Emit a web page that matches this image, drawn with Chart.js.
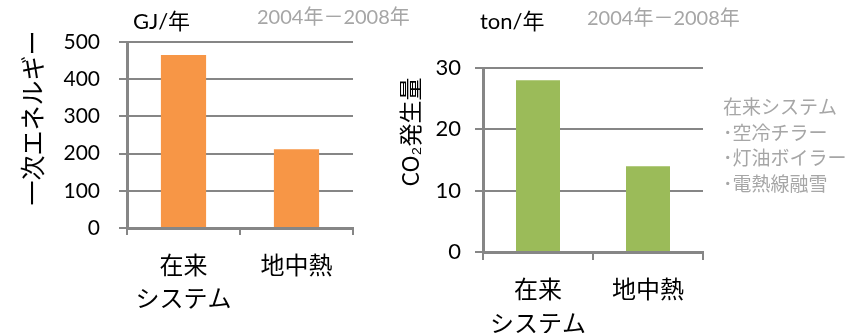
<!DOCTYPE html>
<html lang="ja">
<head>
<meta charset="utf-8">
<title>一次エネルギーとCO2発生量</title>
<script src="https://cdn.jsdelivr.net/npm/chart.js@4.4.0/dist/chart.umd.min.js"></script>
<style>
  html, body { margin: 0; padding: 0; background: #fff; }
  #wrap { position: relative; width: 861px; height: 333px; }
  #wrap canvas { position: absolute; left: 0; top: 0; }
</style>
</head>
<body>
<div id="wrap">
  <canvas id="energyChart" width="861" height="333"></canvas>
  <canvas id="co2Chart" width="861" height="333"></canvas>
</div>
<script>
// Data
const categories = [['在来', 'システム'], '地中熱'];
const energyValues = [465, 212];          // GJ/年
const co2Values = [28, 14];               // ton/年
const energyTicks = [0, 100, 200, 300, 400, 500];
const co2Ticks = [0, 10, 20, 30];
const period = '2004年－2008年';
const conventionalNotes = ['在来システム', '･空冷チラー', '･灯油ボイラー', '･電熱線融雪'];

const FAMILY = "Lato, 'Noto Sans CJK JP', sans-serif";
const JP = "'Noto Sans CJK JP', sans-serif";
const AXIS = '#868686';
const GREY_TEXT = '#a6a6a6';

// draws units, period and axis titles at fixed spots
const freeText = {
    id: 'freeText',
    afterDraw(chart, args, opts) {
        const ctx = chart.ctx;
        (opts.items || []).forEach(function(t) {
            ctx.save();
            ctx.font = t.font;
            ctx.fillStyle = t.color || '#000';
            ctx.textAlign = t.align || 'left';
            ctx.textBaseline = 'middle';
            ctx.translate(t.x, t.y);
            if (t.rotate) ctx.rotate(t.rotate);
            ctx.fillText(t.text, 0, 0);
            ctx.restore();
        });
    }
};

function makeChart(id, values, ticks, color, box, fonts, items) {
    const ctx = document.getElementById(id).getContext('2d');
    return new Chart(ctx, {
        type: 'bar',
        data: {
            labels: categories,
            datasets: [{
                data: values,
                backgroundColor: color,
                borderWidth: 0,
                categoryPercentage: 1,
                barPercentage: 0.4
            }]
        },
        options: {
            responsive: false,
            animation: false,
            events: [],
            layout: {
                padding: { left: 0, top: box.top, right: 861 - box.right, bottom: 0 }
            },
            plugins: {
                legend: { display: false },
                tooltip: { enabled: false },
                freeText: { items: items }
            },
            scales: {
                x: {
                    offset: true,
                    grid: {
                        offset: true,
                        drawOnChartArea: false,
                        drawTicks: true,
                        tickLength: fonts.xTickLength,
                        color: AXIS,
                        lineWidth: 2
                    },
                    border: { display: true, color: AXIS, width: 3 },
                    ticks: {
                        color: '#000',
                        padding: fonts.xPadding,
                        maxRotation: 0,
                        font: { family: JP, size: 24, lineHeight: fonts.xLineHeight }
                    },
                    afterFit: function(scale) { scale.height = 333 - box.bottom; }
                },
                y: {
                    min: ticks[0],
                    max: ticks[ticks.length - 1],
                    grid: {
                        color: AXIS,
                        lineWidth: 2,
                        drawTicks: true,
                        tickLength: 8
                    },
                    border: { display: true, color: AXIS, width: 3 },
                    ticks: {
                        stepSize: ticks[1] - ticks[0],
                        color: '#000',
                        padding: fonts.yPadding,
                        font: { family: FAMILY, size: fonts.ySize }
                    },
                    afterFit: function(scale) { scale.width = box.left; }
                }
            }
        },
        plugins: [freeText]
    });
}

// 一次エネルギー
makeChart('energyChart', energyValues, energyTicks, '#f79646',
    { left: 127, right: 353, top: 42, bottom: 228 },
    { xTickLength: 7, xPadding: 14, xLineHeight: 1.35, yPadding: 19, ySize: 21 },
    [
        { text: 'GJ/年', x: 133, y: 22, font: '22px ' + FAMILY },
        { text: period, x: 257, y: 18, font: '20px ' + FAMILY, color: GREY_TEXT },
        { text: '一次エネルギー', x: 32, y: 118, font: '25px ' + JP, align: 'center', rotate: -Math.PI / 2 }
    ]);

// CO2発生量
makeChart('co2Chart', co2Values, co2Ticks, '#9bbb59',
    { left: 483, right: 703, top: 68, bottom: 252 },
    { xTickLength: 8, xPadding: 11, xLineHeight: 1.45, yPadding: 14, ySize: 22 },
    [
        { text: 'ton/年', x: 480, y: 22, font: '22px ' + FAMILY },
        { text: period, x: 587, y: 19, font: '20px ' + FAMILY, color: GREY_TEXT },
        { text: 'CO₂発生量', x: 410, y: 132, font: '23px ' + JP, align: 'center', rotate: -Math.PI / 2 }
    ].concat(conventionalNotes.map(function(s, i) {
        return { text: s, x: 723, y: 107 + i * 25.5, font: '19px ' + JP, color: GREY_TEXT };
    })));
</script>
</body>
</html>
